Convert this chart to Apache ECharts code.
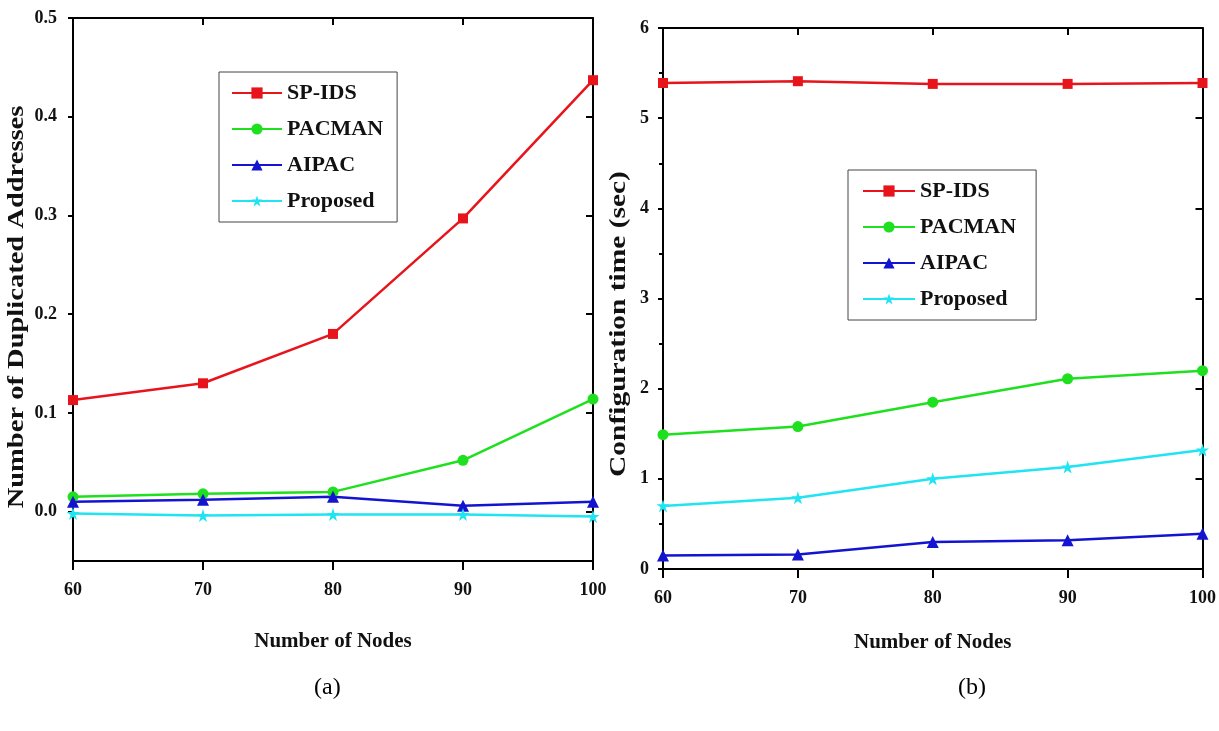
<!DOCTYPE html>
<html>
<head>
<meta charset="utf-8">
<script src="https://cdn.jsdelivr.net/npm/echarts@6/dist/echarts.min.js"></script>
<style>
  html, body { margin: 0; padding: 0; background: #fff; }
  #chart { width: 1219px; height: 731px; }
</style>
</head>
<body>
<div id="chart"></div>
<script>
// Number of nodes (x values shared by both panels)
const nodes = [60, 70, 80, 90, 100];
const seriesNames = ['SP-IDS', 'PACMAN', 'AIPAC', 'Proposed'];

// Panel (a): number of duplicated addresses
const dupSpIds    = [0.113, 0.130, 0.180, 0.297, 0.437];
const dupPacman   = [0.015, 0.018, 0.020, 0.052, 0.114];
const dupAipac    = [0.010, 0.012, 0.015, 0.006, 0.010];
const dupProposed = [-0.002, -0.004, -0.003, -0.003, -0.005];

// Panel (b): configuration time (sec)
const cfgSpIds    = [5.39, 5.41, 5.38, 5.38, 5.39];
const cfgPacman   = [1.49, 1.58, 1.85, 2.11, 2.20];
const cfgAipac    = [0.15, 0.16, 0.30, 0.32, 0.39];
const cfgProposed = [0.70, 0.79, 1.00, 1.13, 1.32];

// Tick labels
const xTicks = [60, 70, 80, 90, 100];
const dupTicks = [0.0, 0.1, 0.2, 0.3, 0.4, 0.5];

const FONT = '"Liberation Serif", "Times New Roman", serif';
const colors = ['#e8141c', '#1fe01f', '#1414d0', '#20e4f2'];
const star = 'path://M12,0 L14.9,8.6 L24,8.6 L16.6,14 L19.4,22.8 L12,17.4 L4.6,22.8 L7.4,14 L0,8.6 L9.1,8.6 Z';
const symbols = ['rect', 'circle', 'triangle', star];
const symbolSizes = [10, 11, 12, 13];

function pairs(vals) { return nodes.map((n, i) => [n, vals[i]]); }

function makeSeries(data, gridIdx) {
  return data.map((vals, k) => ({
    name: seriesNames[k],
    type: 'line',
    xAxisIndex: gridIdx * 2,
    yAxisIndex: gridIdx * 2,
    data: pairs(vals),
    symbol: symbols[k],
    symbolSize: symbolSizes[k],
    lineStyle: { color: colors[k], width: 2.5 },
    itemStyle: { color: colors[k] },
    clip: false,
    z: 3
  }));
}

const axisLine = { show: true, onZero: false, lineStyle: { color: '#000', width: 2 } };
const tickStyle = { color: '#000', width: 2 };
const labelStyle = { color: '#111', fontFamily: FONT, fontWeight: 'bold', fontSize: 18 };
const nameStyle = { color: '#111', fontFamily: FONT, fontWeight: 'bold', fontSize: 21 };
const legendText = { color: '#111', fontFamily: FONT, fontWeight: 'bold', fontSize: 22 };

function xAxes(gridIdx, gap) {
  return [
    {
      type: 'value', gridIndex: gridIdx, min: 60, max: 100, interval: 10,
      axisLine, splitLine: { show: false },
      axisTick: { show: true, inside: false, length: 9, lineStyle: tickStyle },
      axisLabel: { ...labelStyle, margin: 20, data: xTicks },
      name: 'Number of Nodes', nameLocation: 'middle', nameGap: gap, nameTextStyle: nameStyle
    },
    {
      type: 'value', gridIndex: gridIdx, position: 'top', min: 60, max: 100, interval: 10,
      axisLine, splitLine: { show: false },
      axisTick: { show: true, inside: true, length: 7, lineStyle: tickStyle },
      axisLabel: { show: false }
    }
  ];
}

// Rotated y-axis titles, drawn as text so they can be stretched along their length
function yTitle(text, x, y, size, stretch) {
  return {
    type: 'text', x, y, rotation: Math.PI / 2, scaleX: stretch, scaleY: 1,
    style: {
      text, font: 'bold ' + size + 'px ' + FONT, fill: '#111',
      align: 'center', verticalAlign: 'middle'
    }
  };
}

const option = {
  animation: false,
  backgroundColor: '#fff',
  grid: [
    { left: 73, top: 18, width: 520, height: 543 },
    { left: 663, top: 28, width: 542, height: 541 }
  ],
  legend: [
    {
      data: seriesNames, orient: 'vertical', left: 219, top: 72,
      itemWidth: 50, itemHeight: 14, itemGap: 14,
      borderColor: '#444', borderWidth: 1, padding: [10, 14, 10, 12],
      textStyle: legendText, selectedMode: false
    },
    {
      data: seriesNames, orient: 'vertical', left: 848, top: 170,
      itemWidth: 52, itemHeight: 14, itemGap: 14,
      borderColor: '#444', borderWidth: 1, padding: [10, 20, 10, 14],
      textStyle: legendText, selectedMode: false
    }
  ],
  xAxis: [...xAxes(0, 70), ...xAxes(1, 63)],
  yAxis: [
    {
      type: 'value', gridIndex: 0, min: -0.05, max: 0.5,
      axisLine, splitLine: { show: false },
      axisTick: { show: true, inside: false, length: 5, customValues: dupTicks, lineStyle: tickStyle },
      axisLabel: { ...labelStyle, margin: 16, customValues: dupTicks, formatter: v => v.toFixed(1) }
    },
    {
      type: 'value', gridIndex: 0, position: 'right', min: -0.05, max: 0.5,
      axisLine, splitLine: { show: false },
      axisTick: { show: true, inside: true, length: 7, customValues: dupTicks, lineStyle: tickStyle },
      axisLabel: { show: false }
    },
    {
      type: 'value', gridIndex: 1, min: 0, max: 6, interval: 1,
      axisLine, splitLine: { show: false },
      axisTick: { show: true, inside: false, length: 5, lineStyle: tickStyle },
      minorTick: { show: true, splitNumber: 2, length: 4, lineStyle: tickStyle },
      axisLabel: { ...labelStyle, margin: 14 }
    },
    {
      type: 'value', gridIndex: 1, position: 'right', min: 0, max: 6, interval: 1,
      axisLine, splitLine: { show: false },
      axisTick: { show: true, inside: true, length: 7, lineStyle: tickStyle },
      axisLabel: { show: false }
    }
  ],
  series: [
    ...makeSeries([dupSpIds, dupPacman, dupAipac, dupProposed], 0),
    ...makeSeries([cfgSpIds, cfgPacman, cfgAipac, cfgProposed], 1)
  ],
  graphic: [
    yTitle('Number of Duplicated Addresses', 17, 307, 23, 1.24),
    yTitle('Configuration time (sec)', 619, 324, 23, 1.28),
    { type: 'text', left: 314, top: 676, style: { text: '(a)', font: '24px ' + FONT, fill: '#000' } },
    { type: 'text', left: 958, top: 676, style: { text: '(b)', font: '24px ' + FONT, fill: '#000' } }
  ]
};

const chart = echarts.init(document.getElementById('chart'), null, { renderer: 'canvas' });
chart.setOption(option);
</script>
</body>
</html>
